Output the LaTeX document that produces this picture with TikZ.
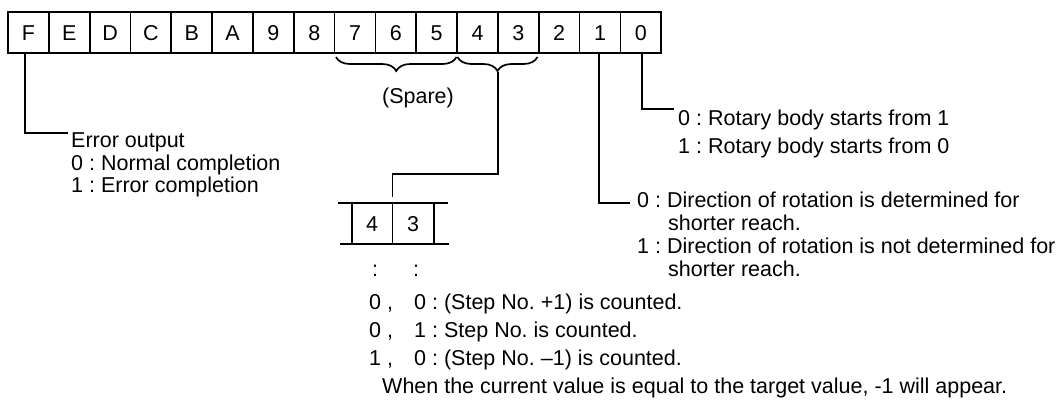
\documentclass[tikz,border=0pt]{standalone}
\usepackage{fontspec}
\setmainfont{Liberation Sans}
\usetikzlibrary{decorations.pathreplacing}
\frenchspacing
\begin{document}
\begin{tikzpicture}[x=1pt,y=-1pt,
  txt/.style={font=\fontsize{21.5}{25}\selectfont, inner sep=0pt, anchor=base west},
  ctxt/.style={font=\fontsize{21.5}{25}\selectfont, inner sep=0pt, anchor=base},
  cell/.style={draw, line width=1.7pt, minimum width=40.83pt, minimum height=41pt, inner sep=0pt, font=\fontsize{21.5}{25}\selectfont},
  lbl/.style={inner sep=0pt, font=\fontsize{21.5}{25}\selectfont},
  conn/.style={line width=1.7pt},
  brc/.style={decorate, decoration={brace, amplitude=14pt, mirror}, line width=1.7pt}]
\useasboundingbox (0,0) rectangle (1063,399);

% register
\foreach \l [count=\i from 0] in {F,E,D,C,B,A,9,8,7,6,5,4,3,2,1,0}
  \node[cell] (r\l) at ({8+40.83*(\i+0.5)}, 32.8) {\l};

% braces
\draw[brc] (336,57) -- (456.5,57);
\draw[brc] (457.5,57) -- (537.5,57);
\node[ctxt] (spare) at (418,103) {(Spare)};

% small 4|3 box
\draw[conn] (338,203) -- (448,203);
\draw[conn] (340,244) -- (449,244);
\draw[conn] (352,203) -- (352,244);
\draw[conn] (392.5,203) -- (392.5,244);
\draw[conn] (434,203) -- (434,244);
\node[lbl] (s4) at (372,224) {4};
\node[lbl] (s3) at (413,224) {3};

% connector from brace of bits 4,3
\coordinate (btip) at (497.7,71.5);
\coordinate (bend) at (392.5,197);
\draw[conn] (btip) -- (497.7,174) -| (bend);

% connectors from bits
\coordinate (eF) at (68,133);
\coordinate (e0) at (674,109.3);
\coordinate (e1) at (630,203.3);
\draw[conn] ([xshift=-3.4pt]rF.south) |- (eF);
\draw[conn] ([xshift=1.4pt]r0.south) |- (e0);
\draw[conn] ([xshift=-1pt]r1.south) |- (e1);

% texts
\node[txt] (err)  at (71,147) {Error output};
\node[txt] (err0) at (71,170) {0 : Normal completion};
\node[txt] (err1) at (71,192) {1 : Error completion};

\node[txt] (rot0) at (678,125) {0 : Rotary body starts from 1};
\node[txt] (rot1) at (678,153) {1 : Rotary body starts from 0};

\node[txt] (dir0)  at (637,207) {0 : Direction of rotation is determined for};
\node[txt] (dir0b) at (668,230) {shorter reach.};
\node[txt] (dir1)  at (637,253) {1 : Direction of rotation is not determined for};
\node[txt] (dir1b) at (668,276) {shorter reach.};

\node[ctxt] (c4) at (375,276) {:};
\node[ctxt] (c3) at (416,276) {:};

\node[txt] (a1) at (369,309) {0 ,};
\node[txt] (b1) at (414,309) {0 : (Step No. +1) is counted.};
\node[txt] (a2) at (369,337) {0 ,};
\node[txt] (b2) at (414,337) {1 : Step No. is counted.};
\node[txt] (a3) at (369,365) {1 ,};
\node[txt] (b3) at (414,365) {0 : (Step No. –1) is counted.};
\node[txt] (when) at (382,393) {When the current value is equal to the target value, -1 will appear.};
\end{tikzpicture}
\end{document}
